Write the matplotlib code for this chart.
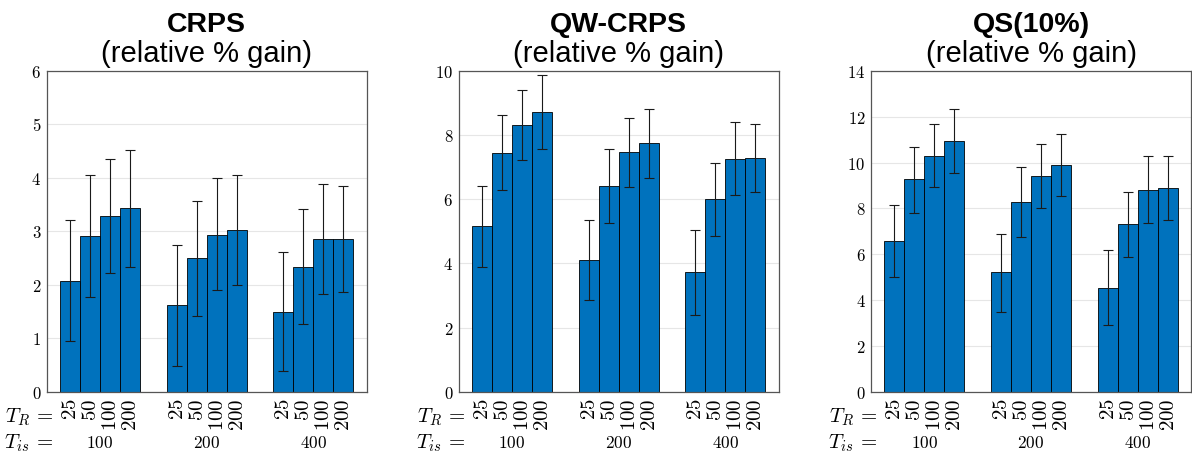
import numpy as np
import matplotlib
matplotlib.use("Agg")
import matplotlib.pyplot as plt

plt.rcParams['mathtext.fontset'] = 'cm'

# data
t_is = ["100", "200", "400"]
t_r = ["25", "50", "100", "200"]

titles = ["CRPS", "QW-CRPS", "QS(10%)"]
ymax = [6, 10, 14]
ystep = [1, 2, 2]

# mean gain, rows = T_is groups, cols = T_R
crps_mean = [[2.08, 2.91, 3.29, 3.43],
             [1.62, 2.50, 2.94, 3.03],
             [1.50, 2.33, 2.85, 2.85]]
crps_lo = [[0.94, 1.77, 2.23, 2.33],
           [0.49, 1.42, 1.90, 2.00],
           [0.39, 1.26, 1.82, 1.86]]
crps_hi = [[3.21, 4.05, 4.36, 4.53],
           [2.74, 3.57, 4.00, 4.05],
           [2.61, 3.41, 3.89, 3.84]]

qw_mean = [[5.16, 7.45, 8.32, 8.71],
           [4.10, 6.40, 7.47, 7.74],
           [3.73, 6.00, 7.27, 7.29]]
qw_lo = [[3.89, 6.29, 7.22, 7.56],
         [2.86, 5.25, 6.39, 6.65],
         [2.39, 4.85, 6.14, 6.22]]
qw_hi = [[6.42, 8.62, 9.42, 9.89],
         [5.34, 7.56, 8.55, 8.81],
         [5.05, 7.14, 8.40, 8.36]]

qs_mean = [[6.58, 9.27, 10.29, 10.93],
           [5.21, 8.30, 9.40, 9.91],
           [4.54, 7.31, 8.82, 8.91]]
qs_lo = [[4.99, 7.82, 8.92, 9.56],
         [3.46, 6.74, 8.00, 8.56],
         [2.90, 5.88, 7.35, 7.48]]
qs_hi = [[8.16, 10.70, 11.69, 12.33],
         [6.90, 9.82, 10.80, 11.25],
         [6.17, 8.70, 10.28, 10.30]]

panels = [(crps_mean, crps_lo, crps_hi),
          (qw_mean, qw_lo, qw_hi),
          (qs_mean, qs_lo, qs_hi)]

fig = plt.figure(figsize=(11.92, 4.59), dpi=100)
lefts = [0.0392, 0.3848, 0.7307]
bar_w = 0.1875

for p in range(3):
    ax = fig.add_axes([lefts[p], 0.1466, 0.2685, 0.6987])
    mean, lo, hi = [np.array(a) for a in panels[p]]
    xs, tl = [], []
    for g in range(len(t_is)):
        for k in range(len(t_r)):
            x = (g + 1) + (k - 1.5) * bar_w
            xs.append(x)
            tl.append(r"$%s$" % t_r[k])
    xs = np.array(xs)
    m = mean.ravel()
    ax.bar(xs, m, width=bar_w, color="#0072BD", edgecolor="black",
           linewidth=0.6, zorder=2)
    ax.errorbar(xs, m, yerr=[m - lo.ravel(), hi.ravel() - m], fmt="none",
                ecolor="#1a1a1a", elinewidth=0.8, capsize=3.6, capthick=0.8,
                zorder=3)
    ax.set_xlim(0.5, 3.5)
    ax.set_ylim(0, ymax[p])
    ax.set_yticks(np.arange(0, ymax[p] + 0.1, ystep[p]))
    ax.set_yticklabels([r"$%d$" % v for v in np.arange(0, ymax[p] + 0.1, ystep[p])],
                       fontsize=12)
    ax.set_xticks(xs)
    ax.set_xticklabels(tl, rotation=90, fontsize=15, va="top", ha="center")
    ax.tick_params(length=0, pad=4)
    ax.tick_params(axis="x", pad=5)
    ax.grid(axis="y", color="#e6e6e6", linewidth=0.8, zorder=0)
    ax.set_axisbelow(True)
    for s in ax.spines.values():
        s.set_color("#555555")
        s.set_linewidth(0.9)

    ax.text(0.5, 1.1216, titles[p], transform=ax.transAxes, ha="center",
            va="baseline", fontsize=20.5, fontweight="bold",
            family="Liberation Sans")
    ax.text(0.5, 1.028, "(relative % gain)", transform=ax.transAxes,
            ha="center", va="baseline", fontsize=21, family="Liberation Sans")

    ax.text(0.02, -0.079, r"$T_R\,=$", transform=ax.transAxes, ha="right",
            va="center", fontsize=15)
    ax.text(0.02, -0.16, r"$T_{is}\,=$", transform=ax.transAxes, ha="right",
            va="center", fontsize=15)
    for g in range(len(t_is)):
        ax.text(g + 1, -0.16, r"$%s$" % t_is[g],
                transform=ax.get_xaxis_transform(), ha="center", va="center",
                fontsize=12.5)

fig.savefig("out.png", dpi=100)
